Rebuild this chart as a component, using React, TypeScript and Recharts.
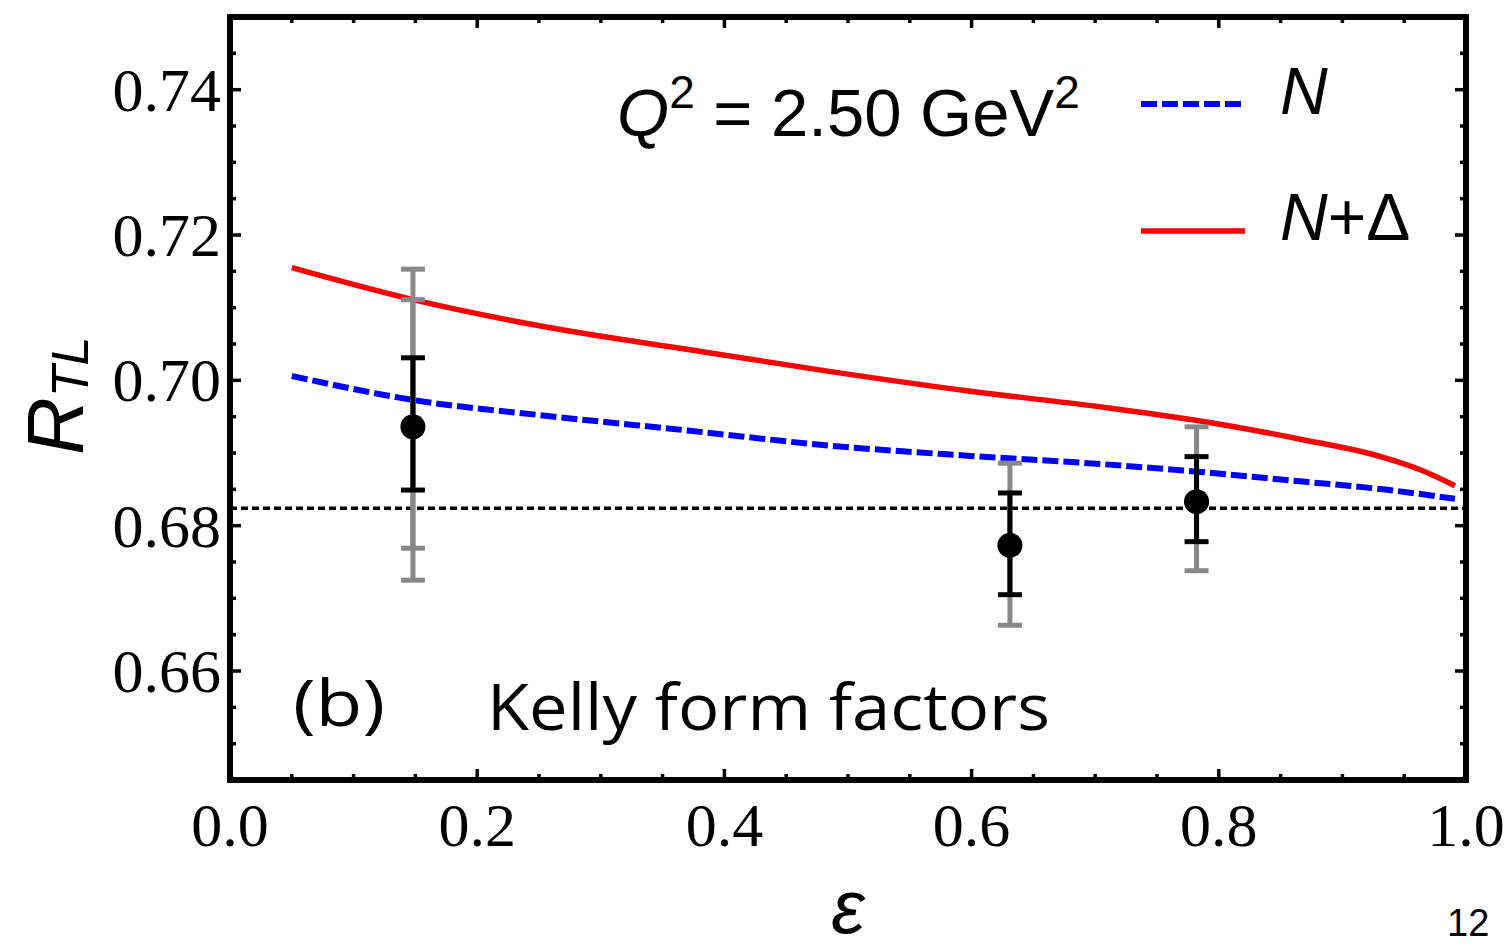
import React from "react";
import {
  ComposedChart,
  Line,
  Scatter,
  XAxis,
  YAxis,
  ErrorBar,
  ReferenceLine,
  Customized,
} from "recharts";

// ---- tick labels ----
const xTicks = [0, 0.05, 0.1, 0.15, 0.2, 0.25, 0.3, 0.35, 0.4, 0.45, 0.5, 0.55, 0.6, 0.65, 0.7, 0.75, 0.8, 0.85, 0.9, 0.95, 1.0];
const xMajor = [0, 0.2, 0.4, 0.6, 0.8, 1.0];
const yTicks = [0.645, 0.65, 0.655, 0.66, 0.665, 0.67, 0.675, 0.68, 0.685, 0.69, 0.695, 0.7, 0.705, 0.71, 0.715, 0.72, 0.725, 0.73, 0.735, 0.74, 0.745, 0.75];
const yMajor = [0.66, 0.68, 0.7, 0.72, 0.74];

// ---- curve N (blue dashed) ----
const nEps = [0.05, 0.148, 0.257, 0.37, 0.486, 0.599, 0.711, 0.785, 0.866, 0.933, 0.991];
const nVal = [0.7006, 0.6973, 0.6951, 0.6931, 0.691, 0.6896, 0.6884, 0.6874, 0.6861, 0.685, 0.6837];

// ---- curve N+Delta (red solid) ----
const ndEps = [0.05, 0.148, 0.257, 0.372, 0.486, 0.599, 0.711, 0.785, 0.866, 0.933, 0.963, 0.991];
const ndVal = [0.7155, 0.7111, 0.7073, 0.7042, 0.7012, 0.6985, 0.6962, 0.6944, 0.6919, 0.6894, 0.6877, 0.6855];

// ---- data points ----
const ptEps = [0.148, 0.631, 0.782];
const ptVal = [0.6936, 0.6773, 0.6833];
const blackLo = [0.6849, 0.6705, 0.6778];
const blackHi = [0.7031, 0.6845, 0.6895];
const grayLo = [0.6725, 0.6663, 0.6738];
const grayHi = [0.7153, 0.6886, 0.6936];
const grayInLo = [0.6769, 0.6773, 0.6833];
const grayInHi = [0.7111, 0.6773, 0.6833];

const refValue = 0.6824;

const nData = nEps.map((e, i) => ({ x: e, y: nVal[i] }));
const ndData = ndEps.map((e, i) => ({ x: e, y: ndVal[i] }));
const ptData = ptEps.map((e, i) => ({
  x: e,
  y: ptVal[i],
  eb: [ptVal[i] - blackLo[i], blackHi[i] - ptVal[i]],
  eg: [ptVal[i] - grayLo[i], grayHi[i] - ptVal[i]],
  egi: [ptVal[i] - grayInLo[i], grayInHi[i] - ptVal[i]],
}));

const isIn = (arr: number[], v: number) => arr.some((m) => Math.abs(m - v) < 1e-9);

const SERIF = "'Liberation Serif', 'Times New Roman', serif";
const SANS = "'Liberation Sans', Arial, sans-serif";
const LABEL = "'Open Sans', 'Liberation Sans', sans-serif";

const BottomTick = (props: any) => {
  const { x, y, payload } = props;
  const major = isIn(xMajor, payload.value);
  return (
    <g>
      <line x1={x} x2={x} y1={y} y2={y - (major ? 11 : 6)} stroke="#000" strokeWidth={3.5} />
      {major && (
        <text x={x} y={y + 66} textAnchor="middle" fontFamily={SERIF} fontSize={62} fill="#000">
          {payload.value.toFixed(1)}
        </text>
      )}
    </g>
  );
};

const TopTick = (props: any) => {
  const { x, y, payload } = props;
  const major = isIn(xMajor, payload.value);
  return <line x1={x} x2={x} y1={y} y2={y + (major ? 11 : 6)} stroke="#000" strokeWidth={3.5} />;
};

const LeftTick = (props: any) => {
  const { x, y, payload } = props;
  const major = isIn(yMajor, payload.value);
  return (
    <g>
      <line x1={x} x2={x + (major ? 11 : 6)} y1={y} y2={y} stroke="#000" strokeWidth={3.5} />
      {major && (
        <text x={x - 9} y={y + 21} textAnchor="end" fontFamily={SERIF} fontSize={62} fill="#000">
          {payload.value.toFixed(2)}
        </text>
      )}
    </g>
  );
};

const RightTick = (props: any) => {
  const { x, y, payload } = props;
  const major = isIn(yMajor, payload.value);
  return <line x1={x} x2={x - (major ? 11 : 6)} y1={y} y2={y} stroke="#000" strokeWidth={3.5} />;
};

const Dot = (props: any) => {
  const { cx, cy } = props;
  return <circle cx={cx} cy={cy} r={12.5} fill="#000" />;
};

const Annotations = () => (
  <g>
    {/* y-axis title */}
    <text transform="translate(83,455) rotate(-90)" fontFamily={SANS} fontSize={80} fill="#000">
      <tspan fontStyle="italic">R</tspan>
      <tspan fontStyle="italic" fontSize={52} dy={5}>TL</tspan>
    </text>
    {/* x-axis title */}
    <text x={848} y={933} textAnchor="middle" fontFamily={SANS} fontStyle="italic" fontSize={76} fill="#000">
      ε
    </text>
    {/* Q^2 label */}
    <text x={617} y={136} fontFamily={SANS} fontSize={67} fill="#000">
      <tspan fontStyle="italic">Q</tspan>
      <tspan fontSize={46} dy={-28}>2</tspan>
      <tspan dy={28}> = 2.50 GeV</tspan>
      <tspan fontSize={46} dy={-28}>2</tspan>
    </text>
    {/* legend */}
    <line x1={1141} x2={1241} y1={104} y2={104} stroke="#0000ff" strokeWidth={6} strokeDasharray="16 5" />
    <text x={1280} y={114} fontFamily={SANS} fontStyle="italic" fontSize={66} fill="#000">N</text>
    <line x1={1141} x2={1245} y1={231} y2={231} stroke="#ff0000" strokeWidth={5.5} />
    <text x={1280} y={240} fontFamily={SANS} fontSize={66} fill="#000">
      <tspan fontStyle="italic">N</tspan>
      <tspan>+Δ</tspan>
    </text>
    {/* panel labels */}
    <text x={293} y={726} fontFamily={LABEL} fontSize={64} fill="#000" textLength={92} lengthAdjust="spacingAndGlyphs">
      (b)
    </text>
    <text x={487} y={730} fontFamily={LABEL} fontSize={64} fill="#000" textLength={563} lengthAdjust="spacingAndGlyphs">
      Kelly form factors
    </text>
    <text x={1447} y={936} fontFamily={SANS} fontSize={38} fill="#000">12</text>
  </g>
);

const axisLineStyle = { stroke: "#000", strokeWidth: 6, strokeLinecap: "square" as const };

export default function App() {
  return (
    <div style={{ position: "absolute", left: 0, top: 0, width: 1511, height: 950, background: "#fff" }}>
      <ComposedChart width={1511} height={950} margin={{ top: 16, right: 44, bottom: 169, left: 229 }}>
        <XAxis
          xAxisId="b"
          type="number"
          dataKey="x"
          domain={[0, 1]}
          ticks={xTicks}
          interval={0}
          height={1}
          tickSize={0}
          tickMargin={0}
          tick={<BottomTick />}
          axisLine={axisLineStyle}
          tickLine={false}
          allowDataOverflow
        />
        <XAxis
          xAxisId="t"
          orientation="top"
          type="number"
          dataKey="x"
          domain={[0, 1]}
          ticks={xTicks}
          interval={0}
          height={1}
          tickSize={0}
          tickMargin={0}
          tick={<TopTick />}
          axisLine={axisLineStyle}
          tickLine={false}
          allowDataOverflow
        />
        <YAxis
          yAxisId="l"
          type="number"
          domain={[0.645, 0.75]}
          ticks={yTicks}
          interval={0}
          width={1}
          tickSize={0}
          tickMargin={0}
          tick={<LeftTick />}
          axisLine={axisLineStyle}
          tickLine={false}
          allowDataOverflow
        />
        <YAxis
          yAxisId="r"
          orientation="right"
          type="number"
          domain={[0.645, 0.75]}
          ticks={yTicks}
          interval={0}
          width={1}
          tickSize={0}
          tickMargin={0}
          tick={<RightTick />}
          axisLine={axisLineStyle}
          tickLine={false}
          allowDataOverflow
        />
        <ReferenceLine
          xAxisId="b"
          yAxisId="l"
          y={refValue}
          stroke="#000"
          strokeWidth={3.5}
          strokeDasharray="7 4"
        />
        <Line
          xAxisId="b"
          yAxisId="l"
          data={nData}
          dataKey="y"
          type="monotone"
          stroke="#0000ff"
          strokeWidth={6}
          strokeDasharray="16 5"
          dot={false}
          isAnimationActive={false}
        />
        <Line
          xAxisId="b"
          yAxisId="l"
          data={ndData}
          dataKey="y"
          type="monotone"
          stroke="#ff0000"
          strokeWidth={5.5}
          dot={false}
          isAnimationActive={false}
        />
        <Scatter
          xAxisId="b"
          yAxisId="l"
          data={ptData}
          dataKey="y"
          shape={<Dot />}
          isAnimationActive={false}
        >
          <ErrorBar dataKey="eg" direction="y" width={12} stroke="#888888" strokeWidth={5} isAnimationActive={false} />
          <ErrorBar dataKey="egi" direction="y" width={12} stroke="#888888" strokeWidth={5} isAnimationActive={false} />
          <ErrorBar dataKey="eb" direction="y" width={12} stroke="#000000" strokeWidth={5} isAnimationActive={false} />
        </Scatter>
        <Customized component={Annotations} />
      </ComposedChart>
    </div>
  );
}
